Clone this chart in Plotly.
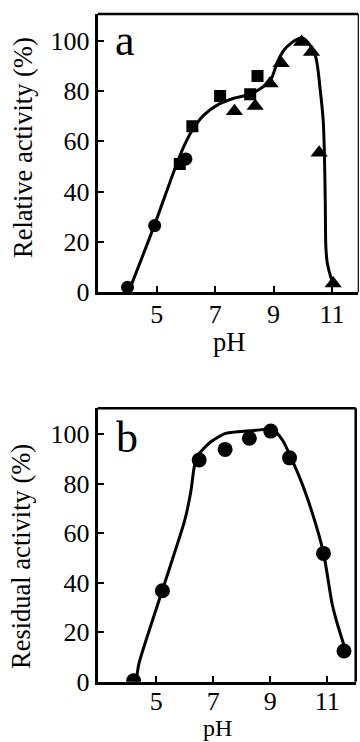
import plotly.graph_objects as go

# ---- Panel a data (relative activity vs pH) ----
a_circle_ph = [4.0, 4.93, 6.0]
a_circle_act = [2, 26.5, 53]
a_square_ph = [5.79, 6.22, 7.17, 8.2, 8.45]
a_square_act = [51, 66, 78, 78.7, 86]
a_triangle_ph = [7.66, 8.37, 8.88, 9.26, 9.96, 10.3, 10.56, 11.04]
a_triangle_act = [72, 74, 83, 91, 99.5, 95.5, 55.5, 3.5]
a_curve_ph = [4.1, 4.9, 5.65, 5.93, 6.22, 6.62, 7.07, 7.64, 8.1, 8.56, 8.9, 9.13, 9.36,
              9.6, 9.8, 10.0, 10.2, 10.44, 10.61, 10.7, 10.74, 10.77, 10.79, 10.84, 10.96, 11.03]
a_curve_act = [2, 26, 50, 58, 64.5, 70.5, 74.4, 77.1, 78.4, 81, 84.4, 91.5, 96.3,
               99, 100.5, 101, 99, 93.6, 79, 68, 55, 35, 18, 11.5, 6, 4]

# ---- Panel b data (residual activity vs pH) ----
b_point_ph = [4.21, 5.22, 6.51, 7.42, 8.27, 9.02, 9.68, 10.87, 11.59]
b_point_act = [0.4, 36.7, 89.5, 93.8, 98.3, 101.2, 90.4, 51.8, 12.4]
b_curve_ph = [4.3, 4.4, 5.22, 6.0, 6.22, 6.34, 6.51, 6.92, 7.44, 8.5, 9.08, 9.43,
              10.07, 10.48, 10.87, 11.17, 11.35, 11.64]
b_curve_act = [0, 7.5, 37, 65, 77, 86.8, 92, 96.9, 100.3, 101.5, 101.9, 97.6,
               81.4, 68, 52, 31.6, 23.6, 12.8]

x_ticks = [5, 7, 9, 11]
y_ticks = [0, 20, 40, 60, 80, 100]

W, H = 360, 742
FONT = "Liberation Serif"
INK = "#000000"

fig = go.Figure()

# panel a
fig.add_trace(go.Scatter(x=a_curve_ph, y=a_curve_act, mode="lines",
                         line=dict(color=INK, width=3, shape="spline", smoothing=0.8),
                         xaxis="x", yaxis="y", showlegend=False, hoverinfo="skip"))
fig.add_trace(go.Scatter(x=a_circle_ph, y=a_circle_act, mode="markers",
                         marker=dict(symbol="circle", size=13, color=INK),
                         xaxis="x", yaxis="y", showlegend=False))
fig.add_trace(go.Scatter(x=a_square_ph, y=a_square_act, mode="markers",
                         marker=dict(symbol="square", size=12, color=INK),
                         xaxis="x", yaxis="y", showlegend=False))
fig.add_trace(go.Scatter(x=a_triangle_ph, y=a_triangle_act, mode="markers",
                         marker=dict(symbol="triangle-up", size=15, color=INK),
                         xaxis="x", yaxis="y", showlegend=False))

# panel b
fig.add_trace(go.Scatter(x=b_curve_ph, y=b_curve_act, mode="lines",
                         line=dict(color=INK, width=3, shape="spline", smoothing=0.6),
                         xaxis="x2", yaxis="y2", showlegend=False, hoverinfo="skip"))
fig.add_trace(go.Scatter(x=b_point_ph, y=b_point_act, mode="markers",
                         marker=dict(symbol="circle", size=15, color=INK),
                         xaxis="x2", yaxis="y2", showlegend=False))

def px_x(p):
    return p / W

def px_y(p):
    return 1 - p / H

tickfont = dict(family=FONT, size=26, color=INK)
common_x = dict(tickvals=x_ticks, ticks="inside", ticklen=6, tickwidth=2, tickcolor=INK,
                showline=True, linewidth=3, linecolor=INK, showgrid=False, zeroline=False,
                tickfont=tickfont, automargin=False, fixedrange=True)
common_y = dict(tickvals=y_ticks, ticks="inside", ticklen=6, tickwidth=2, tickcolor=INK,
                showline=True, linewidth=3, linecolor=INK, showgrid=False, zeroline=False,
                tickfont=tickfont, automargin=False, fixedrange=True)

fig.update_layout(
    width=W, height=H,
    margin=dict(l=0, r=0, t=0, b=0),
    paper_bgcolor="white", plot_bgcolor="white",
    xaxis=dict(domain=[px_x(97.7), px_x(358.3)], range=[2.98, 11.9], anchor="y",
               ticklabelstandoff=-4, **common_x),
    yaxis=dict(domain=[px_y(292.3), px_y(14)], range=[0, 110.6], anchor="x", **common_y),
    xaxis2=dict(domain=[px_x(97.7), px_x(355.7)], range=[2.95, 12.0], anchor="y2",
                ticklabelstandoff=-6, **common_x),
    yaxis2=dict(domain=[px_y(681.7), px_y(408.3)], range=[0, 110.4], anchor="x2", **common_y),
)

# frame top/right edges
fig.add_shape(type="line", xref="x domain", yref="y domain", x0=0, x1=1, y0=1, y1=1,
              line=dict(color=INK, width=2.5))
fig.add_shape(type="line", xref="x domain", yref="y domain", x0=1, x1=1, y0=0, y1=1,
              line=dict(color=INK, width=1.2))
fig.add_shape(type="line", xref="x2 domain", yref="y2 domain", x0=0, x1=1, y0=1, y1=1,
              line=dict(color=INK, width=2.5))
fig.add_shape(type="line", xref="x2 domain", yref="y2 domain", x0=1, x1=1, y0=0, y1=1,
              line=dict(color=INK, width=2.5))

titlefont = dict(family=FONT, size=26.5, color=INK)
labelfont = dict(family=FONT, size=44, color=INK)

annos = [
    dict(text="a", x=px_x(113), y=px_y(40), xanchor="left", yanchor="middle", font=labelfont),
    dict(text="b", x=px_x(114), y=px_y(437), xanchor="left", yanchor="middle", font=labelfont),
    dict(text="Relative activity (%)", x=px_x(23), y=px_y(148), textangle=-90,
         xanchor="center", yanchor="middle", font=titlefont),
    dict(text="Residual activity (%)", x=px_x(21), y=px_y(557), textangle=-90,
         xanchor="center", yanchor="middle", font=titlefont),
    dict(text="pH", x=px_x(229), y=px_y(342), xanchor="center", yanchor="middle", font=titlefont),
    dict(text="pH", x=px_x(217.5), y=px_y(728), xanchor="center", yanchor="middle",
         font=dict(family=FONT, size=24, color=INK)),
]
for a in annos:
    fig.add_annotation(xref="paper", yref="paper", showarrow=False, **a)

fig.write_html("out.html",
               config={"displayModeBar": False, "staticPlot": True},
               post_script="document.body.style.margin='0';document.body.style.overflow='hidden';")
